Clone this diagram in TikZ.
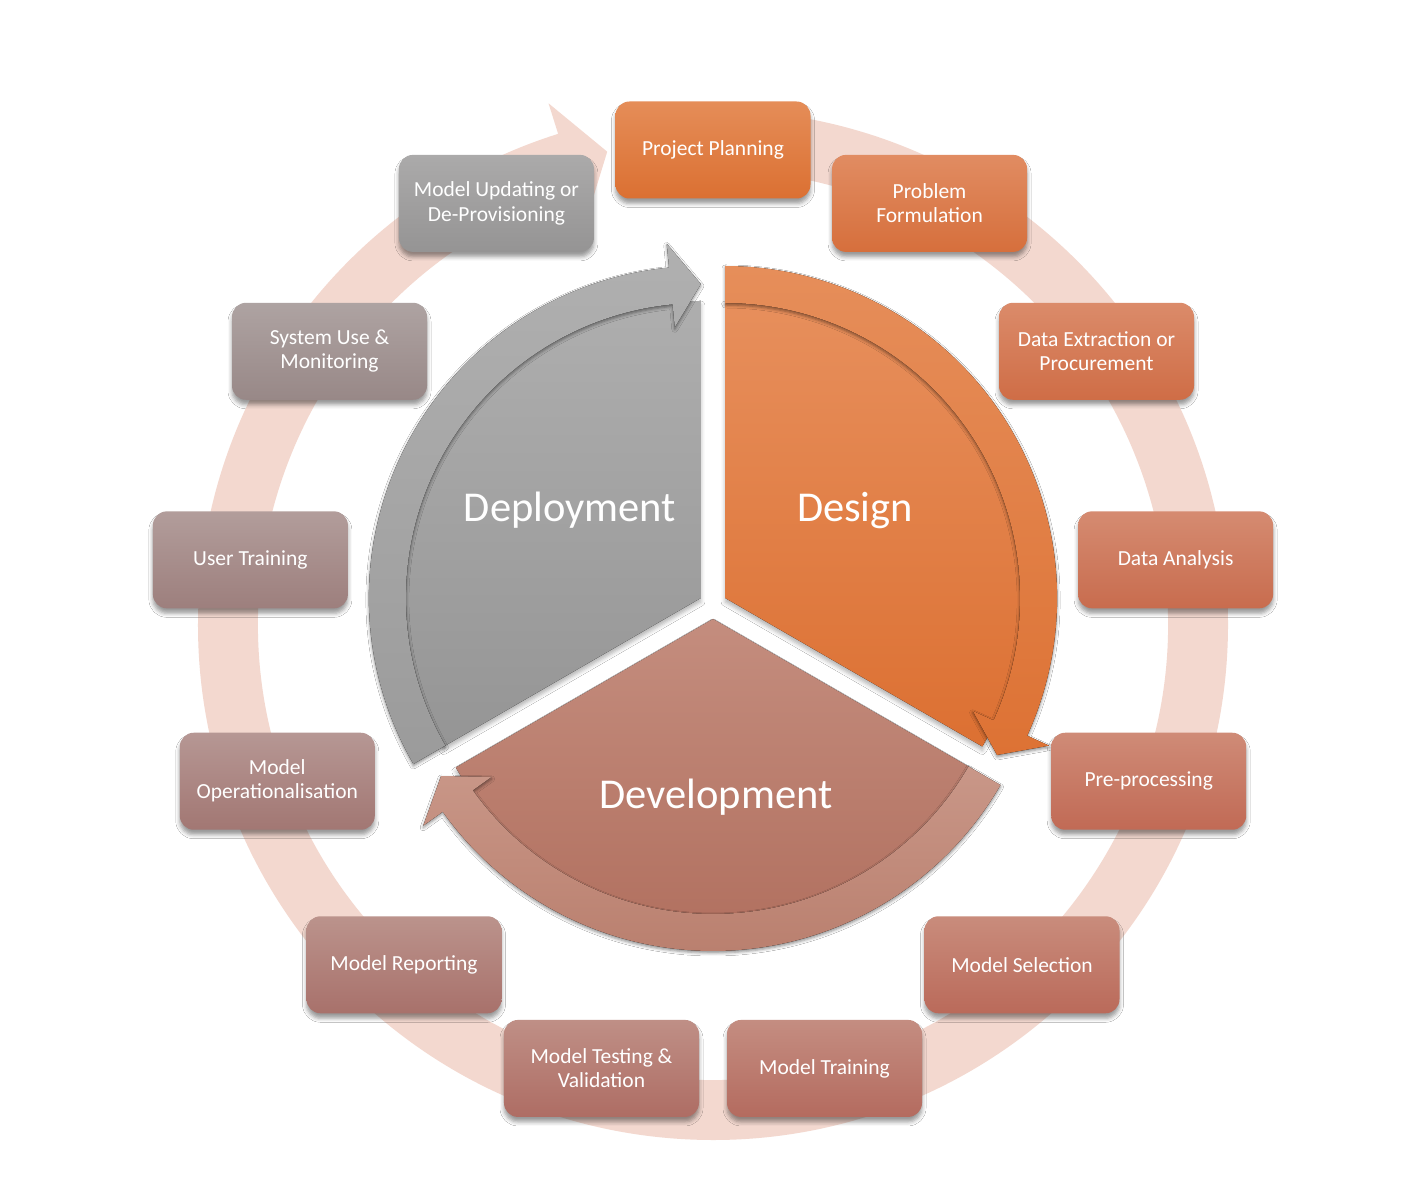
\documentclass[tikz,border=0pt]{standalone}
\usepackage{fontspec}
\setmainfont{Carlito}
\usetikzlibrary{calc,shadows.blur}

\definecolor{ringc}{RGB}{243,216,207}
\definecolor{dsT}{RGB}{231,143,92}
\definecolor{dsB}{RGB}{220,112,50}
\definecolor{dbT}{RGB}{230,142,90}
\definecolor{dbB}{RGB}{221,114,52}
\definecolor{dpT}{RGB}{174,174,174}
\definecolor{dpB}{RGB}{149,149,149}
\definecolor{dpbT}{RGB}{176,176,176}
\definecolor{dpbB}{RGB}{155,155,155}
\definecolor{dvT}{RGB}{196,141,126}
\definecolor{dvB}{RGB}{176,110,93}
\definecolor{dvbT}{RGB}{201,151,136}
\definecolor{dvbB}{RGB}{186,128,111}

\definecolor{c0t}{RGB}{229,141,88}  \definecolor{c0b}{RGB}{219,112,50}
\definecolor{c1t}{RGB}{225,140,98}  \definecolor{c1b}{RGB}{214,111,60}
\definecolor{c2t}{RGB}{219,139,106} \definecolor{c2b}{RGB}{207,109,70}
\definecolor{c3t}{RGB}{213,139,113} \definecolor{c3b}{RGB}{200,108,78}
\definecolor{c4t}{RGB}{207,139,119} \definecolor{c4b}{RGB}{193,106,85}
\definecolor{c5t}{RGB}{201,140,124} \definecolor{c5b}{RGB}{186,106,90}
\definecolor{c6t}{RGB}{196,141,129} \definecolor{c6b}{RGB}{180,107,95}
\definecolor{c7t}{RGB}{191,143,134} \definecolor{c7b}{RGB}{174,109,100}
\definecolor{c8t}{RGB}{187,147,140} \definecolor{c8b}{RGB}{168,113,107}
\definecolor{c9t}{RGB}{182,151,148} \definecolor{c9b}{RGB}{162,119,115}
\definecolor{c10t}{RGB}{178,157,155} \definecolor{c10b}{RGB}{157,127,125}
\definecolor{c11t}{RGB}{174,163,162} \definecolor{c11b}{RGB}{152,136,135}
\definecolor{c12t}{RGB}{171,170,170} \definecolor{c12b}{RGB}{149,148,148}

\newcommand\phasesector[6]{%
\begin{scope}[shift={(#1)}]
\fill[top color=#3, bottom color=#4, softshadow]
  (0,0) -- (#2:297) arc[start angle=#2, delta angle=-120, radius=297] -- cycle;
\fill[top color=#5, bottom color=#6, bandshadow]
  (#2:332) arc[start angle=#2, delta angle=-114.5, radius=332]
  -- ({#2-114.5}:356) -- ({#2-120}:314) -- ({#2-114.5}:272)
  -- ({#2-114.5}:295) arc[start angle={#2-114.5}, delta angle=114.5, radius=295] -- cycle;
\end{scope}}

\begin{document}
\begin{tikzpicture}[x=1pt,y=1pt,
  softshadow/.style={blur shadow={shadow xshift=0pt, shadow yshift=-4pt, shadow blur radius=4pt, shadow opacity=30}},
  bandshadow/.style={blur shadow={shadow xshift=0pt, shadow yshift=-2pt, shadow blur radius=3pt, shadow opacity=45}},
  stepbox/.style={rectangle, rounded corners=14pt, minimum width=195pt, minimum height=97pt,
    inner sep=0pt, text=white, align=center, font=\fontsize{21.5}{24}\selectfont,
    blur shadow={shadow xshift=0pt, shadow yshift=-5pt, shadow blur radius=4pt, shadow opacity=40}},
  phase/.style={text=white, font=\fontsize{42.5}{48}\selectfont, inner sep=0pt, anchor=base}]

\fill[white] (0,0) rectangle (1416,1200);
\useasboundingbox (0,0) rectangle (1416,1200);

% outer cycle ring
\begin{scope}[shift={(713,575)}]
\fill[ringc] (88:515) arc[start angle=88, end angle=-252.5, radius=515]
  -- (-252.5:547) -- (-257.4:485) -- (-252.5:423)
  -- (-252.5:455) arc[start angle=-252.5, end angle=88, radius=455] -- cycle;
\end{scope}

% central phases
\coordinate (C0) at (713,595);
\coordinate (Cdes) at ($(C0)+(30:14)$);
\coordinate (Cdep) at ($(C0)+(150:14)$);
\coordinate (Cdev) at ($(C0)+(270:14)$);

\phasesector{Cdes}{90}{dsT}{dsB}{dbT}{dbB}
\phasesector{Cdev}{-30}{dvT}{dvB}{dvbT}{dvbB}
\phasesector{Cdep}{210}{dpT}{dpB}{dpbT}{dpbB}

\node[phase] (design) at (855,678) {Design};
\node[phase] (deploy) at (570,678) {Deployment};
\node[phase] (develop) at (716,391) {Development};

% step boxes
\coordinate (BC) at (713,584);
\node[stepbox, top color=c0t, bottom color=c0b] (s0) at ($(BC)+(90:466)$) {Project Planning};
\node[stepbox, top color=c1t, bottom color=c1b] (s1) at ($(BC)+(62.3077:466)$) {Problem\\Formulation};
\node[stepbox, top color=c2t, bottom color=c2b] (s2) at ($(BC)+(34.6154:466)$) {Data Extraction or\\Procurement};
\node[stepbox, top color=c3t, bottom color=c3b] (s3) at ($(BC)+(6.9231:466)$) {Data Analysis};
\node[stepbox, top color=c4t, bottom color=c4b] (s4) at ($(BC)+(-20.7692:466)$) {Pre-processing};
\node[stepbox, top color=c5t, bottom color=c5b] (s5) at ($(BC)+(-48.4615:466)$) {Model Selection};
\node[stepbox, top color=c6t, bottom color=c6b] (s6) at ($(BC)+(-76.1538:466)$) {Model Training};
\node[stepbox, top color=c7t, bottom color=c7b] (s7) at ($(BC)+(-103.8462:466)$) {Model Testing \&\\Validation};
\node[stepbox, top color=c8t, bottom color=c8b] (s8) at ($(BC)+(-131.5385:466)$) {Model Reporting};
\node[stepbox, top color=c9t, bottom color=c9b] (s9) at ($(BC)+(-159.2308:466)$) {Model\\Operationalisation};
\node[stepbox, top color=c10t, bottom color=c10b] (s10) at ($(BC)+(-186.9231:466)$) {User Training};
\node[stepbox, top color=c11t, bottom color=c11b] (s11) at ($(BC)+(-214.6154:466)$) {System Use \&\\Monitoring};
\node[stepbox, top color=c12t, bottom color=c12b] (s12) at ($(BC)+(-242.3077:466)$) {Model Updating or\\De-Provisioning};
\end{tikzpicture}
\end{document}
